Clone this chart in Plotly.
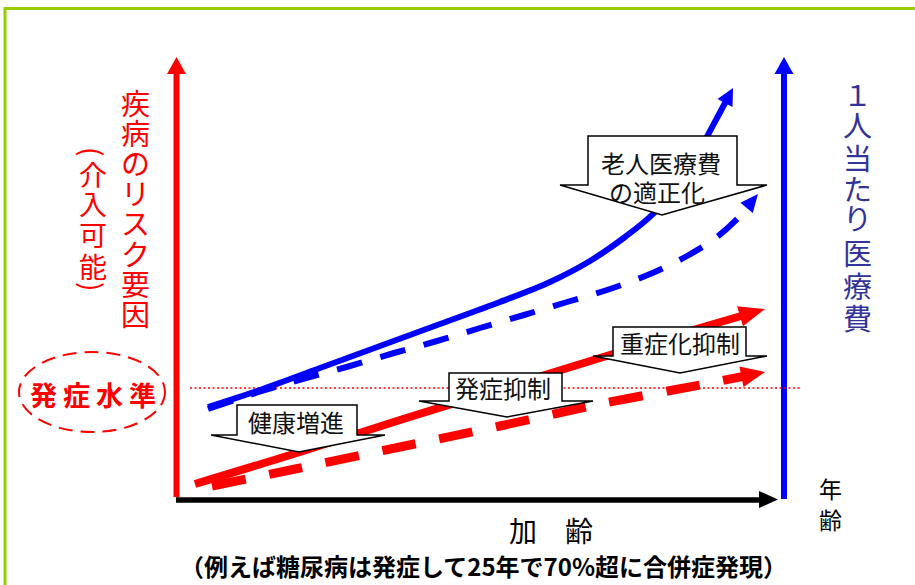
import math
import plotly.graph_objects as go

W, H = 915, 585
JP = "Noto Sans CJK JP"

# ---- curves along age (page pixel coordinates; y grows downward) ----
blue_solid_x = [208, 260, 320, 380, 440, 500, 550, 590, 625, 655, 680, 700, 717, 733]
blue_solid_y = [407, 390, 368, 346, 324, 302, 282, 261, 237, 212, 180, 149, 118, 88]
blue_dash_x = [208, 262, 306, 350, 394, 437, 480, 524, 567, 610, 650, 687, 717, 740, 758]
blue_dash_y = [409, 391, 378, 366, 353, 341, 328, 315, 302, 289, 274, 256, 237, 216, 194]
red_solid_x = [195, 300, 400, 500, 600, 700, 765]
red_solid_y = [484, 452, 420, 389, 358, 328, 309]
red_dash_x = [212, 300, 400, 500, 600, 700, 765]
red_dash_y = [486, 468, 447, 426, 404, 385, 372]

# ---- labels ----
left_title = "疾病のリスク要因"
left_sub = ["(", "介", "入", "可", "能", ")"]
right_title = "１人当たり医療費"
onset_label = "発症水準"
x_title = "加　齢"
x_note = "（例えば糖尿病は発症して25年で70%超に合併症発現）"
corner_label = ["年", "齢"]

# callouts: text lines, box (left, right, top), shoulder y, shoulder (left, right), tip (x, y)
callouts = [
    (["老人医療費", "の適正化"], (588, 737, 136), 185, (560, 767), (662, 215)),
    (["重症化抑制"], (613, 746, 327), 356, (593, 767), (680, 373)),
    (["発症抑制"], (449, 562, 373), 401, (419, 593), (507, 417)),
    (["健康増進"], (237, 357, 405), 435, (211, 385), (299, 452)),
]

RED = "#FF0000"
BLUE = "#0000FF"
NAVY = "#333399"
GREEN = "#9ACD00"

fig = go.Figure()


def poly(xs, ys, color, width=0):
    fig.add_trace(go.Scatter(
        x=xs, y=ys, mode="lines", fill="toself",
        fillcolor=color, line=dict(color=color, width=width),
        hoverinfo="skip", showlegend=False))


def curve(xs, ys, color, width, dash, head_len, head_w):
    # direction of the final segment for the arrow head
    dx, dy = xs[-1] - xs[-2], ys[-1] - ys[-2]
    n = math.hypot(dx, dy)
    ux, uy = dx / n, dy / n
    bx, by = xs[-1] - ux * head_len, ys[-1] - uy * head_len
    px, py = -uy, ux
    fig.add_trace(go.Scatter(
        x=xs[:-1] + [bx + ux * 2], y=ys[:-1] + [by + uy * 2], mode="lines",
        line=dict(color=color, width=width, dash=dash, shape="spline", smoothing=1),
        hoverinfo="skip", showlegend=False))
    poly([xs[-1], bx + px * head_w / 2, bx - px * head_w / 2, xs[-1]],
         [ys[-1], by + py * head_w / 2, by - py * head_w / 2, ys[-1]], color)


# frame
fig.add_trace(go.Scatter(x=[5, 5, W], y=[H, 8.5, 8.5], mode="lines",
                         line=dict(color=GREEN, width=3), hoverinfo="skip", showlegend=False))

# vertical axes with arrow heads
fig.add_trace(go.Scatter(x=[176.5, 176.5], y=[497, 72], mode="lines",
                         line=dict(color=RED, width=6), hoverinfo="skip", showlegend=False))
poly([167, 186, 176.5, 167], [74, 74, 57, 74], RED)
fig.add_trace(go.Scatter(x=[784, 784], y=[499, 72], mode="lines",
                         line=dict(color=BLUE, width=6), hoverinfo="skip", showlegend=False))
poly([774.5, 793.5, 784, 774.5], [74, 74, 57, 74], BLUE)

# horizontal (age) axis
fig.add_trace(go.Scatter(x=[176, 762], y=[500, 500], mode="lines",
                         line=dict(color="black", width=5.5), hoverinfo="skip", showlegend=False))
poly([759, 759, 778, 759], [491, 508, 499.5, 491], "black")

# onset threshold
fig.add_trace(go.Scatter(x=[190, 800], y=[388, 388], mode="lines",
                         line=dict(color=RED, width=1.5, dash="2px,2.5px"),
                         hoverinfo="skip", showlegend=False))

# curves
curve(blue_solid_x, blue_solid_y, BLUE, 6, "solid", 17, 17)
curve(blue_dash_x, blue_dash_y, BLUE, 6, "26px,19px", 18, 16)
curve(red_dash_x, red_dash_y, RED, 9, "34px,24px", 24, 21)
curve(red_solid_x, red_solid_y, RED, 8, "solid", 26, 21)

shapes = []
annotations = []

# down-arrow callouts
for lines, (bl, br, top), sy, (sl, sr), (tx, ty) in callouts:
    path = (f"M {bl},{top} L {br},{top} L {br},{sy} L {sr},{sy} L {tx},{ty} "
            f"L {sl},{sy} L {bl},{sy} Z")
    shapes.append(dict(type="path", path=path, xref="x", yref="y", layer="above",
                       fillcolor="white", line=dict(color="black", width=1.5)))

callout_text_pos = [[(661, 162), (657, 191)], [(680, 342)], [(503, 387)], [(296, 421)]]
for (lines, *_), pos in zip(callouts, callout_text_pos):
    for t, (x, y) in zip(lines, pos):
        annotations.append(dict(x=x, y=y, text=t, showarrow=False, xanchor="center",
                                yanchor="middle", font=dict(family=JP, size=24, color="#111111")))

# onset level ellipse
shapes.append(dict(type="circle", xref="x", yref="y", x0=19, x1=165, y0=352, y1=432,
                   line=dict(color=RED, width=2, dash="14px,8px"), layer="above"))
for i, ch in enumerate(onset_label):
    annotations.append(dict(x=43 + i * 33, y=394, text=f"<b>{ch}</b>", showarrow=False,
                            xanchor="center", yanchor="middle",
                            font=dict(family=JP, size=27, color=RED)))

# vertical titles (one character per row)
for i, ch in enumerate(left_title):
    annotations.append(dict(x=135, y=102 + i * 30.1, text=ch, showarrow=False,
                            xanchor="center", yanchor="middle",
                            font=dict(family=JP, size=29, color=RED)))
sub_y = [151, 174, 203, 234, 266, 286]
for ch, y in zip(left_sub, sub_y):
    ang = 90 if ch in "()" else 0
    annotations.append(dict(x=93, y=y, text=ch, showarrow=False, textangle=ang,
                            xanchor="center", yanchor="middle",
                            font=dict(family=JP, size=28, color=RED)))
right_y = [93, 124, 157, 188, 217, 252, 285, 317]
for ch, y in zip(right_title, right_y):
    annotations.append(dict(x=857, y=y, text=ch, showarrow=False,
                            xanchor="center", yanchor="middle",
                            font=dict(family=JP, size=29, color=NAVY)))

# axis labels
annotations.append(dict(x=551, y=530, text=x_title, showarrow=False, xanchor="center",
                        yanchor="middle", font=dict(family=JP, size=28, color="black")))
annotations.append(dict(x=483, y=565, text=f"<b>{x_note}</b>", showarrow=False,
                        xanchor="center", yanchor="middle",
                        font=dict(family=JP, size=24, color="black")))
for ch, y in zip(corner_label, [488, 519]):
    annotations.append(dict(x=830, y=y, text=ch, showarrow=False, xanchor="center",
                            yanchor="middle", font=dict(family=JP, size=23, color="black")))

fig.update_layout(
    width=W, height=H, margin=dict(l=0, r=0, t=0, b=0),
    paper_bgcolor="white", plot_bgcolor="white",
    xaxis=dict(range=[0, W], visible=False, fixedrange=True),
    yaxis=dict(range=[H, 0], visible=False, fixedrange=True),
    shapes=shapes, annotations=annotations, showlegend=False,
)

fig.write_html("out.html", config={"displayModeBar": False})
